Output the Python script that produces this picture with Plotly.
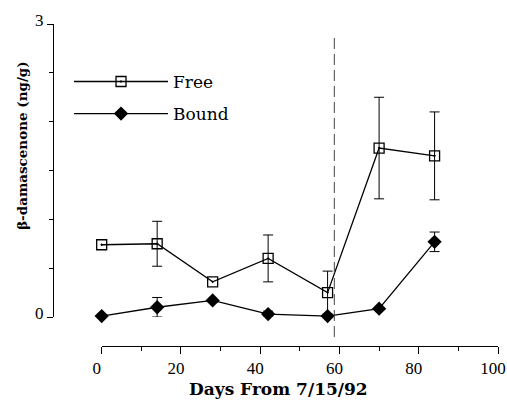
import plotly.graph_objects as go

days_free = [0, 14, 28, 42, 57, 70, 84]
free = [0.74, 0.75, 0.36, 0.60, 0.25, 1.73, 1.65]
free_err = [0, 0.23, 0, 0.24, 0.22, 0.52, 0.45]

days_bound = [0, 14, 28, 42, 57, 70, 84]
bound = [0.01, 0.10, 0.17, 0.03, 0.01, 0.085, 0.77]
bound_err = [0, 0.10, 0, 0.03, 0, 0, 0.10]

event_day = 58.7
x_ticks = [0, 20, 40, 60, 80, 100]
x_tick_labels = ["0", "20", "40", "60", "80", "100"]
y_ticks = [0, 3]
y_tick_labels = ["0", "3"]

SERIF = "DejaVu Serif"


def with_err(xs, ys, es):
    keep = [i for i, e in enumerate(es) if e > 0]
    return [xs[i] for i in keep], [ys[i] for i in keep], [es[i] for i in keep]


fig = go.Figure()
for xs, ys, es in [(days_free, free, free_err), (days_bound, bound, bound_err)]:
    ex, ey, ee = with_err(xs, ys, es)
    fig.add_trace(go.Scatter(
        x=ex, y=ey, mode="markers", showlegend=False, hoverinfo="skip",
        marker=dict(size=1, opacity=0), cliponaxis=False,
        error_y=dict(type="data", array=ee, visible=True, color="black", thickness=1, width=5),
    ))

fig.add_trace(go.Scatter(
    x=days_free, y=free, name="Free", mode="lines+markers", cliponaxis=False,
    line=dict(color="black", width=1.3),
    marker=dict(symbol="square-open-dot", size=10, color="black", line=dict(width=1.3)),
    legendgroup="a",
))
fig.add_trace(go.Scatter(
    x=days_bound, y=bound, name="Bound", mode="lines+markers", cliponaxis=False,
    line=dict(color="black", width=1.3),
    marker=dict(symbol="diamond", size=11, color="black"),
    legendgroup="b",
))

fig.add_shape(type="line", xref="x", yref="paper", x0=event_day, x1=event_day,
              y0=0.028, y1=0.966, line=dict(color="#444", width=1, dash="11px,5px"))

fig.add_annotation(text="<b>Days From 7/15/92</b>", xref="paper", yref="paper",
                   x=(278 - 53) / 445, y=-0.135, xanchor="center", yanchor="middle",
                   showarrow=False, font=dict(family=SERIF, size=17))
fig.add_annotation(text="<b>β-damascenone (ng/g)</b>", xref="paper", yref="paper",
                   x=-0.07, y=(346 - 145) / 322, xanchor="center", yanchor="middle",
                   textangle=-90, showarrow=False, font=dict(family=SERIF, size=13.5))

fig.update_layout(
    width=507, height=403,
    margin=dict(l=53, r=9, t=24, b=57, autoexpand=False),
    paper_bgcolor="white", plot_bgcolor="white",
    font=dict(family=SERIF, color="black", size=16),
    showlegend=True,
    legend=dict(x=0.036, y=0.876, xanchor="left", yanchor="top", itemwidth=94,
                font=dict(family=SERIF, size=17), bgcolor="rgba(0,0,0,0)",
                tracegroupgap=7),
    xaxis=dict(domain=[0.1094, 1], range=[0, 100], anchor="free", position=0, automargin=False,
               tickvals=x_ticks, ticktext=x_tick_labels, ticks="outside", ticklen=7, tickcolor="black",
               ticklabeloverflow="allow", ticklabelshift=-5,
               showline=True, linecolor="black", linewidth=1, showgrid=False, zeroline=False,
               minor=dict(dtick=10, tick0=0, ticks="outside", ticklen=4, tickcolor="black"),
               tickfont=dict(family="Liberation Serif", size=17)),
    yaxis=dict(domain=[0.09, 1], range=[0, 3], anchor="free", position=0, automargin=False,
               tickvals=y_ticks, ticktext=y_tick_labels, ticks="outside", ticklen=6, tickcolor="black",
               ticklabelshift=-4,
               showline=True, linecolor="black", linewidth=1, showgrid=False, zeroline=False,
               minor=dict(dtick=0.5, tick0=0, ticks="outside", ticklen=4, tickcolor="black"),
               tickfont=dict(family="Liberation Serif", size=17)),
)

fig.write_html("out.html")
